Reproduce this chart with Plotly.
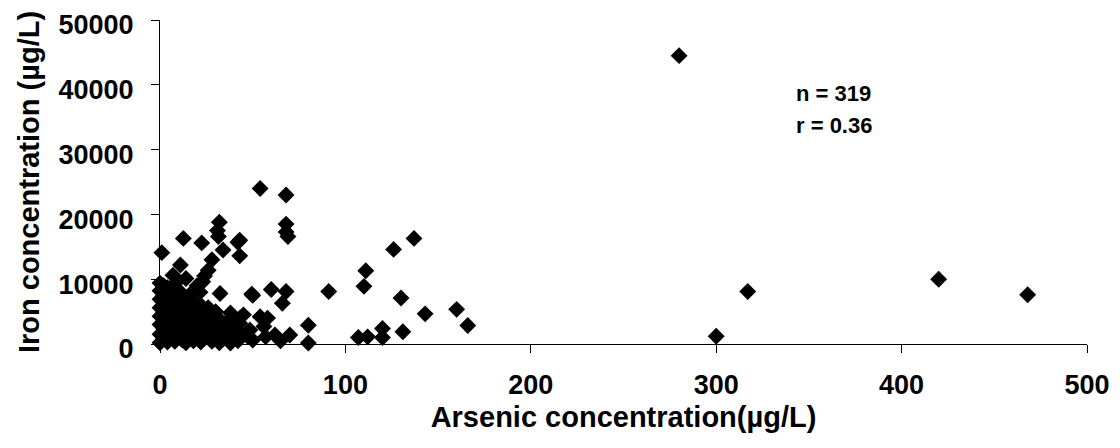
import plotly.graph_objects as go

# Arsenic (µg/L) and Iron (µg/L) values
arsenic_outer = [280, 420, 468, 317, 300, 166, 160, 143, 137, 130, 131, 126, 120, 120,
                 111, 110, 107, 112, 91, 80, 80, 68, 68, 68, 69, 54, 68, 66, 60, 50,
                 43, 43, 32, 31, 12.6, 22.5, 31.5, 42, 34, 1, 28, 26, 24, 20, 11, 7, 14,
                 23, 0, 21.6, 32.4, 49.5, 38, 43, 48.5, 38, 43, 54, 58, 56, 70, 62,
                 47.5, 43, 57, 50, 65, 45]
iron_outer = [44500, 10000, 7600, 8100, 1200, 2850, 5350, 4650, 16300, 7100, 1900, 14600, 2400, 1000,
              11300, 8900, 1000, 1100, 8100, 2900, 150, 23000, 18500, 17300, 16600, 24000, 8100, 6300, 8400, 7500,
              16000, 13600, 18800, 17500, 16300, 15600, 16600, 15700, 14500, 14100, 13000, 11400, 10500, 9000, 12200, 10600, 10100,
              9600, 9400, 8000, 7800, 7700, 4800, 3200, 2150, 150, 4000, 4200, 4000, 2700, 1400, 1400,
              1100, 1700, 1100, 600, 500, 4500]

arsenic_cluster = [0, 0, 0, 0, 0, 0, 0,
                   2, 2, 2, 2, 2,
                   4, 4, 4, 4, 4,
                   6, 6, 6, 6,
                   8, 8, 8, 8, 8,
                   10, 10, 10, 10,
                   12, 12, 12, 12,
                   14, 14, 14, 14,
                   16, 16, 16, 16,
                   18, 18, 18, 18,
                   20, 20, 20,
                   22, 22, 22, 22,
                   24, 24, 24,
                   26, 26, 26,
                   28, 28, 28,
                   30, 30, 30,
                   32, 32, 32,
                   34, 34,
                   36, 36,
                   38, 38,
                   40, 40,
                   42]
iron_cluster = [200, 1500, 3000, 4300, 5600, 6900, 8200,
                800, 2400, 4800, 7400, 9000,
                300, 1800, 3600, 6100, 8700,
                1100, 2900, 5200, 7900,
                400, 2200, 4300, 6700, 9300,
                1400, 3400, 5700, 8300,
                600, 2600, 4600, 7000,
                200, 1900, 3900, 6200,
                1000, 3000, 5100, 7600,
                500, 2400, 4400, 6500,
                1300, 3300, 5400,
                300, 2000, 4000, 6000,
                900, 2800, 4900,
                1700, 3600, 5600,
                400, 2300, 4200,
                1100, 3000, 5000,
                200, 1900, 3800,
                800, 2600,
                1500, 3400,
                300, 2100,
                1000, 2800,
                500]

arsenic = arsenic_outer + arsenic_cluster
iron = iron_outer + iron_cluster

x_ticks = [0, 100, 200, 300, 400, 500]
y_ticks = [0, 10000, 20000, 30000, 40000, 50000]
stats_lines = ["n = 319", "r = 0.36"]

FONT = "Liberation Sans, Arial, sans-serif"

fig = go.Figure()
fig.add_trace(go.Scatter(
    x=arsenic, y=iron, mode="markers",
    marker=dict(symbol="diamond", size=13, color="black", line=dict(width=0)),
    cliponaxis=False, showlegend=False,
))

axis_common = dict(
    showgrid=False, zeroline=False, showline=True, linecolor="black", linewidth=1,
    ticks="outside", ticklen=8, tickcolor="black", tickwidth=1, automargin=False,
    ticklabeloverflow="allow",
    tickfont=dict(family=FONT, size=27, color="black", weight="bold"),
)

# the page body adds an 8px offset, so the figure is 8px smaller and margins shifted
fig.update_layout(
    width=1112, height=440,
    margin=dict(l=152, r=33, t=12, b=104),
    paper_bgcolor="white", plot_bgcolor="white",
    xaxis=dict(range=[0, 500], tickvals=x_ticks, ticktext=[str(v) for v in x_ticks],
               ticklabelstandoff=9,
               title=dict(text="Arsenic concentration(µg/L)", standoff=7,
                          font=dict(family=FONT, size=29, color="black", weight="bold")),
               **axis_common),
    yaxis=dict(range=[0, 50000], tickvals=y_ticks, ticktext=[str(v) for v in y_ticks],
               ticklabelstandoff=12, ticklabelshift=5,
               title=dict(text="Iron concentration (µg/L)", standoff=10,
                          font=dict(family=FONT, size=29, color="black", weight="bold")),
               **axis_common),
    annotations=[
        dict(x=0.684, y=0.772, xref="paper", yref="paper", xanchor="left", yanchor="middle",
             text=stats_lines[0], showarrow=False,
             font=dict(family=FONT, size=22, color="black", weight="bold")),
        dict(x=0.684, y=0.673, xref="paper", yref="paper", xanchor="left", yanchor="middle",
             text=stats_lines[1], showarrow=False,
             font=dict(family=FONT, size=22, color="black", weight="bold")),
    ],
)

fig.write_html("out.html")
